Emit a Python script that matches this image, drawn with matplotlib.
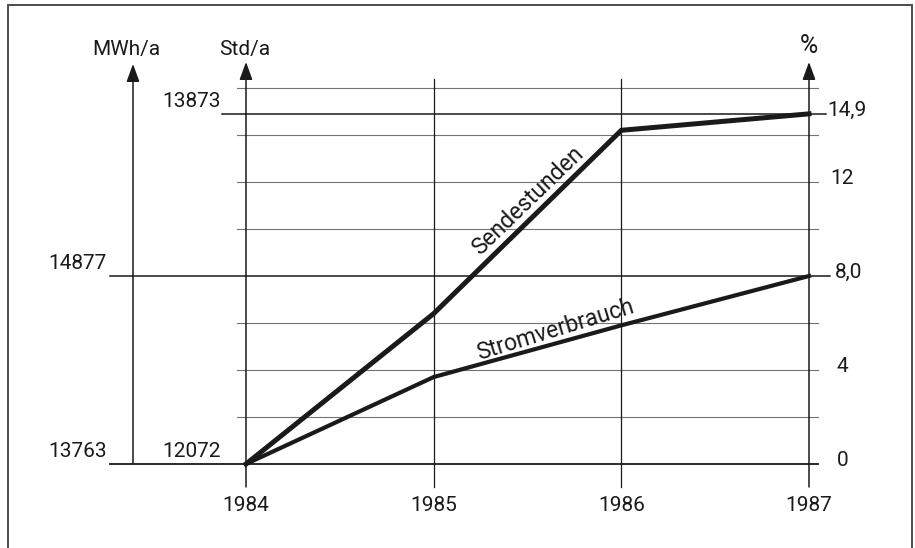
import matplotlib.pyplot as plt
from matplotlib.patches import Rectangle
from matplotlib import font_manager

# Data
years = [1984, 1985, 1986, 1987]
sendestunden = [0, 6.4, 14.2, 14.9]      # % change of broadcast hours
stromverbrauch = [0, 3.7, 5.9, 8.0]      # % change of power consumption

minor_grid = [2, 4, 6, 10, 12, 14, 16]
right_ticks = [0, 4, 8.0, 12, 14.9]
right_labels = ["0", "4", "8,0", "12", "14,9"]
mwh_ticks = [0, 8.0]
mwh_labels = ["13763", "14877"]
std_ticks = [0, 14.9]
std_labels = ["12072", "13873"]

names = {f.name for f in font_manager.fontManager.ttflist}
plt.rcParams['font.family'] = ['Roboto' if 'Roboto' in names else 'DejaVu Sans']
fs = 15
ink = '#1a1a1a'

W, H = 915, 548
fig = plt.figure(figsize=(W / 100, H / 100), dpi=100)
# plot area: 1984..1987 horizontally, 0..16 % vertically
ax = fig.add_axes([246 / W, 1 - 464 / H, 563 / W, 376 / H])
ax.set_xlim(1984, 1987)
ax.set_ylim(0, 16)
ax.axis('off')

def fx(px):   # pixel column -> axes fraction
    return (px - 246) / 563

def fy(py):   # pixel row -> data y
    return (464 - py) / 23.5

tr = ax.get_yaxis_transform()

# thin grid lines
for v in minor_grid:
    ax.plot([fx(237), fx(818)], [v, v], transform=tr, color='0.45', lw=0.8, clip_on=False)

# reference lines
ax.plot([fx(110), fx(818)], [0, 0], transform=tr, color=ink, lw=1.3, clip_on=False)
ax.plot([fx(110), fx(830)], [8.0, 8.0], transform=tr, color=ink, lw=1.1, clip_on=False)
ax.plot([fx(222), fx(826)], [14.9, 14.9], transform=tr, color=ink, lw=1.1, clip_on=False)

# vertical year lines
for yr in years[1:3]:
    ax.plot([yr, yr], [fy(487), fy(79)], color=ink, lw=0.9, clip_on=False)

arrow = dict(arrowstyle='-|>,head_length=0.6,head_width=0.22', color=ink, lw=1.1,
             mutation_scale=18, shrinkA=0, shrinkB=0)
for yr in (years[0], years[-1]):
    ax.annotate('', xy=(yr, fy(62)), xytext=(yr, fy(487)), arrowprops=arrow, annotation_clip=False)
ax.annotate('', xy=(fx(133), fy(64)), xytext=(fx(133), 0), xycoords=tr, textcoords=tr,
            arrowprops=arrow, annotation_clip=False)

# data lines
ax.plot(years, sendestunden, color=ink, lw=3.6, solid_joinstyle='miter', clip_on=False)
ax.plot(years, stromverbrauch, color=ink, lw=3.0, solid_joinstyle='miter', clip_on=False)

ax.text(1985.50, 11.2, "Sendestunden", rotation=44, ha='center', va='center',
        fontsize=16.5, color=ink, rotation_mode='anchor')
ax.text(1985.65, 5.7, "Stromverbrauch", rotation=17, ha='center', va='center',
        fontsize=16.5, color=ink, rotation_mode='anchor')

# axis titles
ax.text(fx(126), fy(50), "MWh/a", transform=tr, ha='center', va='center', fontsize=fs, color=ink)
ax.text(fx(245), fy(50), "Std/a", transform=tr, ha='center', va='center', fontsize=fs, color=ink)
ax.text(fx(809), fy(46), "%", transform=tr, ha='center', va='center', fontsize=18, color=ink)

# tick labels
for yr in years:
    ax.text(yr, fy(496), str(yr), ha='center', va='top', fontsize=fs, color=ink)
right_px = [837, 837, 835, 830, 827]
for v, lab, px in zip(right_ticks, right_labels, right_px):
    ax.text(fx(px), v + 0.15, lab, transform=tr, ha='left', va='center', fontsize=fs, color=ink)
for v, lab in zip(mwh_ticks, mwh_labels):
    ax.text(fx(107), v + 0.12, lab, transform=tr, ha='right', va='bottom', fontsize=fs, color=ink)
for v, lab in zip(std_ticks, std_labels):
    ax.text(fx(221), v + 0.12, lab, transform=tr, ha='right', va='bottom', fontsize=fs, color=ink)

# frame of the drawing (bottom edge lies outside the picture)
fig.patches.append(Rectangle((8 / W, -0.05), 904 / W, 1.05 - 5 / H, transform=fig.transFigure,
                             fill=False, lw=1.4, edgecolor='0.3'))

fig.savefig("out.png", dpi=100)
